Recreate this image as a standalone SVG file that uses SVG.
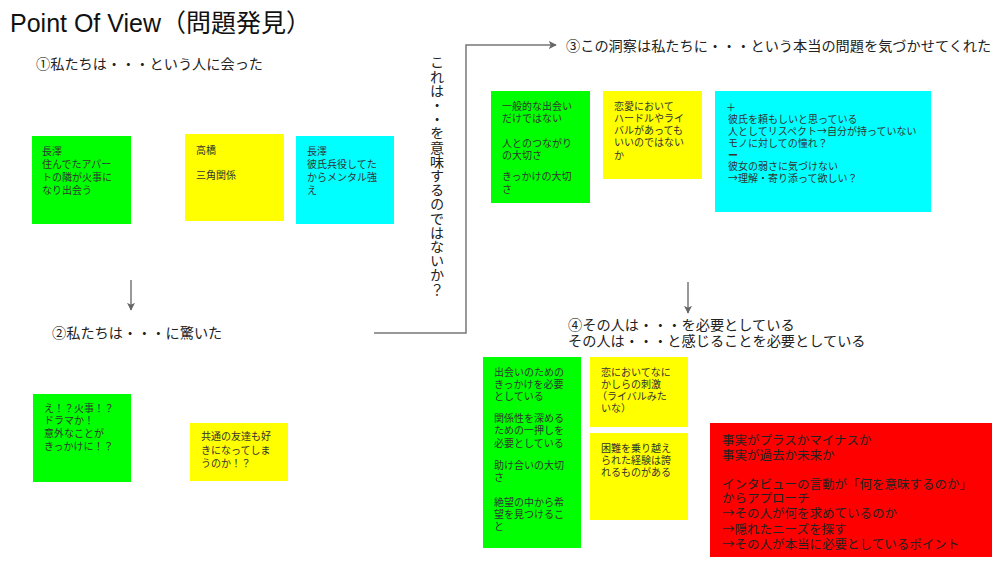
<svg xmlns="http://www.w3.org/2000/svg" width="1000" height="562" viewBox="0 0 1000 562">
<style>
text{font-family:"Noto Sans CJK JP","Liberation Sans",sans-serif;}
.title{font-family:"Liberation Sans","Noto Sans CJK JP",sans-serif;font-size:25px;fill:#111;}
.h{font-size:14.2px;fill:#222;}
.n{font-size:10px;fill:#333;}
.r{font-size:12.5px;fill:#222;}
.b{font-weight:bold;}
.g{fill:#00ff00;}
.y{fill:#ffff00;}
.c{fill:#00ffff;}
.red{fill:#ff0000;}
.con{fill:none;stroke:#777;stroke-width:1.5;}
</style>
<defs>
<marker id="ah" viewBox="0 0 10 10" refX="9" refY="5" markerWidth="8" markerHeight="8" markerUnits="userSpaceOnUse" orient="auto">
<path d="M0,0 L10,5 L0,10 L2.5,5 Z" fill="#666"/>
</marker>
</defs>
<rect width="1000" height="562" fill="#fff"/>
<text class="title" x="10" y="32">Point Of View（問題発見）</text>
<g id="h1"><text class="h" x="36" y="69">①私たちは・・・という人に会った</text></g>
<g id="h2"><text class="h" x="52" y="338">②私たちは・・・に驚いた</text></g>
<g id="h3"><text class="h" x="566" y="51">③この洞察は私たちに・・・という本当の問題を気づかせてくれた</text></g>
<g id="h4"><text class="h" x="568"><tspan x="568" y="330">④その人は・・・を必要としている</tspan><tspan x="568" y="346">その人は・・・と感じることを必要としている</tspan></text></g>
<g id="vtext"><text class="h" x="437" y="55" style="writing-mode:vertical-rl;">これは・・を意味するのではないか？</text></g>

<g id="connectors">
<path class="con" d="M131,280 L131,310" marker-end="url(#ah)"/>
<path class="con" d="M374,333 L466,333 L466,45 L556,45" marker-end="url(#ah)"/>
<path class="con" d="M688,282 L688,313" marker-end="url(#ah)"/>
</g>

<g id="n1"><rect class="g" x="32" y="136" width="99" height="88"/>
<text class="n"><tspan x="42" y="155">長澤</tspan><tspan x="42" y="168">住んでたアパー</tspan><tspan x="42" y="181">トの隣が火事に</tspan><tspan x="42" y="194">なり出会う</tspan></text></g>
<g id="n2"><rect class="y" x="185" y="134" width="99" height="87"/>
<text class="n"><tspan x="196" y="154">高橋</tspan><tspan x="196" y="179">三角関係</tspan></text></g>
<g id="n3"><rect class="c" x="296" y="136" width="98" height="88"/>
<text class="n"><tspan x="307" y="155">長澤</tspan><tspan x="307" y="168">彼氏兵役してた</tspan><tspan x="307" y="181">からメンタル強</tspan><tspan x="307" y="194">え</tspan></text></g>

<g id="n4"><rect class="g" x="491" y="91" width="99" height="112"/>
<text class="n"><tspan x="502" y="110">一般的な出会い</tspan><tspan x="502" y="122">だけではない</tspan><tspan x="502" y="147">人とのつながり</tspan><tspan x="502" y="159">の大切さ</tspan><tspan x="502" y="180">きっかけの大切</tspan><tspan x="502" y="193">さ</tspan></text></g>
<g id="n5"><rect class="y" x="603" y="91" width="99" height="88"/>
<text class="n"><tspan x="614" y="110">恋愛において</tspan><tspan x="614" y="122">ハードルやライ</tspan><tspan x="614" y="134">バルがあっても</tspan><tspan x="614" y="146">いいのではない</tspan><tspan x="614" y="159">か</tspan></text></g>
<g id="n6"><rect class="c" x="715" y="91" width="216" height="121"/>
<text class="n"><tspan x="726" y="111">＋</tspan><tspan x="728" y="123">彼氏を頼もしいと思っている</tspan><tspan x="728" y="135">人としてリスペクト→自分が持っていない</tspan><tspan x="728" y="147">モノに対しての憧れ？</tspan><tspan class="b" x="728" y="159">ー</tspan><tspan x="728" y="170">彼女の弱さに気づけない</tspan><tspan x="728" y="182">→理解・寄り添って欲しい？</tspan></text></g>

<g id="n7"><rect class="g" x="33" y="394" width="98" height="88"/>
<text class="n"><tspan x="44" y="412">え！？火事！？</tspan><tspan x="44" y="424">ドラマか！</tspan><tspan x="44" y="437">意外なことが</tspan><tspan x="44" y="450">きっかけに！？</tspan></text></g>
<g id="n8"><rect class="y" x="190" y="423" width="98" height="58"/>
<text class="n"><tspan x="201" y="440">共通の友達も好</tspan><tspan x="201" y="454">きになってしま</tspan><tspan x="201" y="467">うのか！？</tspan></text></g>

<g id="n9"><rect class="g" x="483" y="357" width="98" height="191"/>
<text class="n"><tspan x="494" y="376">出会いのための</tspan><tspan x="494" y="388">きっかけを必要</tspan><tspan x="494" y="400">としている</tspan><tspan x="494" y="422">関係性を深める</tspan><tspan x="494" y="434">ための一押しを</tspan><tspan x="494" y="447">必要としている</tspan><tspan x="494" y="469">助け合いの大切</tspan><tspan x="494" y="481">さ</tspan><tspan x="494" y="506">絶望の中から希</tspan><tspan x="494" y="518">望を見つけるこ</tspan><tspan x="494" y="530">と</tspan></text></g>
<g id="n10"><rect class="y" x="590" y="357" width="98" height="70"/>
<text class="n"><tspan x="601" y="376">恋においてなに</tspan><tspan x="601" y="388">かしらの刺激</tspan><tspan x="597" y="400">（ライバルみた</tspan><tspan x="601" y="412">いな）</tspan></text></g>
<g id="n11"><rect class="y" x="590" y="433" width="98" height="87"/>
<text class="n"><tspan x="601" y="452">困難を乗り越え</tspan><tspan x="601" y="464">られた経験は誇</tspan><tspan x="601" y="476">れるものがある</tspan></text></g>

<g id="n12"><rect class="red" x="710" y="423" width="282" height="134"/>
<text class="r"><tspan x="722" y="445">事実がプラスかマイナスか</tspan><tspan x="722" y="460">事実が過去か未来か</tspan><tspan x="722" y="489">インタビューの言動が「何を意味するのか」</tspan><tspan x="722" y="503">からアプローチ</tspan><tspan x="722" y="518">→その人が何を求めているのか</tspan><tspan x="722" y="534">→隠れたニーズを探す</tspan><tspan x="722" y="549">→その人が本当に必要としているポイント</tspan></text></g>
</svg>
